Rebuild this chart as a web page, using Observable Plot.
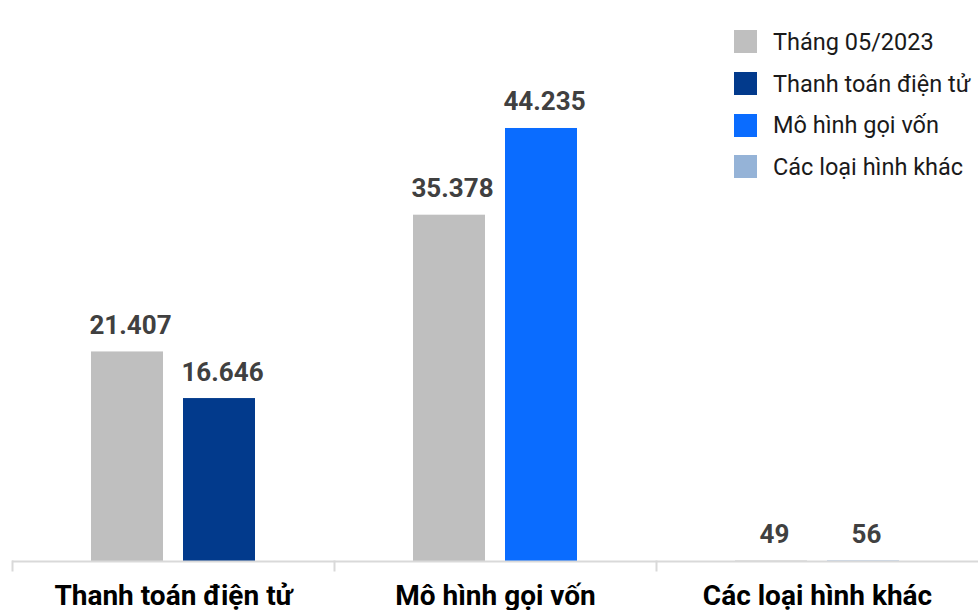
<!DOCTYPE html>
<html>
<head>
<meta charset="utf-8">
<script src="https://cdn.jsdelivr.net/npm/d3@7"></script>
<script src="https://cdn.jsdelivr.net/npm/@observablehq/plot@0.6"></script>
<style>
  html, body { margin: 0; padding: 0; background: #fff; overflow: hidden; }
  #wrap { position: relative; width: 978px; height: 610px; overflow: hidden; font-family: Roboto, "Noto Sans", sans-serif; }
  #legend { position: absolute; left: 734px; top: 21px; }
  .item { display: flex; align-items: center; height: 41.7px; white-space: nowrap; }
  .sw { width: 23px; height: 23px; margin-right: 16px; flex: none; }
  .lab { font-size: 23.5px; color: #1a1a1a; }
</style>
</head>
<body>
<div id="wrap"><div id="chart"></div><div id="legend"></div></div>
<script>
// Data
const categories = ["Thanh toán điện tử", "Mô hình gọi vốn", "Các loại hình khác"];
const previousLabel = "Tháng 05/2023";
const previousValues = [21407, 35378, 49];
const currentValues = [16646, 44235, 56];
const legendLabels = [previousLabel, ...categories];
const legendColors = ["#bfbfbf", "#023a8c", "#0a6cff", "#95b3d7"];

const rows = [];
categories.forEach((c, i) => {
  rows.push({category: c, period: "prev", key: previousLabel, value: previousValues[i]});
  rows.push({category: c, period: "curr", key: c, value: currentValues[i]});
});

const fmt = d3.formatLocale({decimal: ",", thousands: ".", grouping: [3], currency: ["", ""]}).format(",");

const chart = Plot.plot({
  width: 978,
  height: 610,
  marginLeft: 12,
  marginRight: 0,
  marginTop: 0,
  marginBottom: 49,
  style: {fontFamily: "Roboto, sans-serif", background: "transparent"},
  fx: {domain: categories, padding: 0, label: null},
  x: {domain: ["prev", "curr"], paddingInner: 0.2174, paddingOuter: 0.8587, axis: null},
  y: {domain: [0, 57310], axis: null},
  color: {domain: legendLabels, range: legendColors},
  marks: [
    Plot.barY(rows, {fx: "category", x: "period", y: "value", fill: "key"}),
    Plot.text(rows, {fx: "category", x: "period", y: "value", text: d => fmt(d.value),
      dx: 3, dy: -18, lineAnchor: "bottom", fontSize: 26, fontWeight: "bold", fill: "#404040"}),
    Plot.ruleY([0], {stroke: "#d9d9d9", strokeWidth: 2}),
    Plot.frame({anchor: "left", stroke: "#d9d9d9", strokeWidth: 2, insetTop: 561, insetBottom: -9}),
    Plot.axisFx({anchor: "bottom", tickSize: 0, tickPadding: 24, fontSize: 28, fontWeight: "bold", fill: "#000", label: null})
  ]
});
document.getElementById("chart").appendChild(chart);

const legend = document.getElementById("legend");
legendLabels.forEach((l, i) => {
  const item = document.createElement("div");
  item.className = "item";
  const sw = document.createElement("div");
  sw.className = "sw";
  sw.style.background = legendColors[i];
  const lab = document.createElement("span");
  lab.className = "lab";
  lab.textContent = l;
  item.appendChild(sw);
  item.appendChild(lab);
  legend.appendChild(item);
});
</script>
</body>
</html>
